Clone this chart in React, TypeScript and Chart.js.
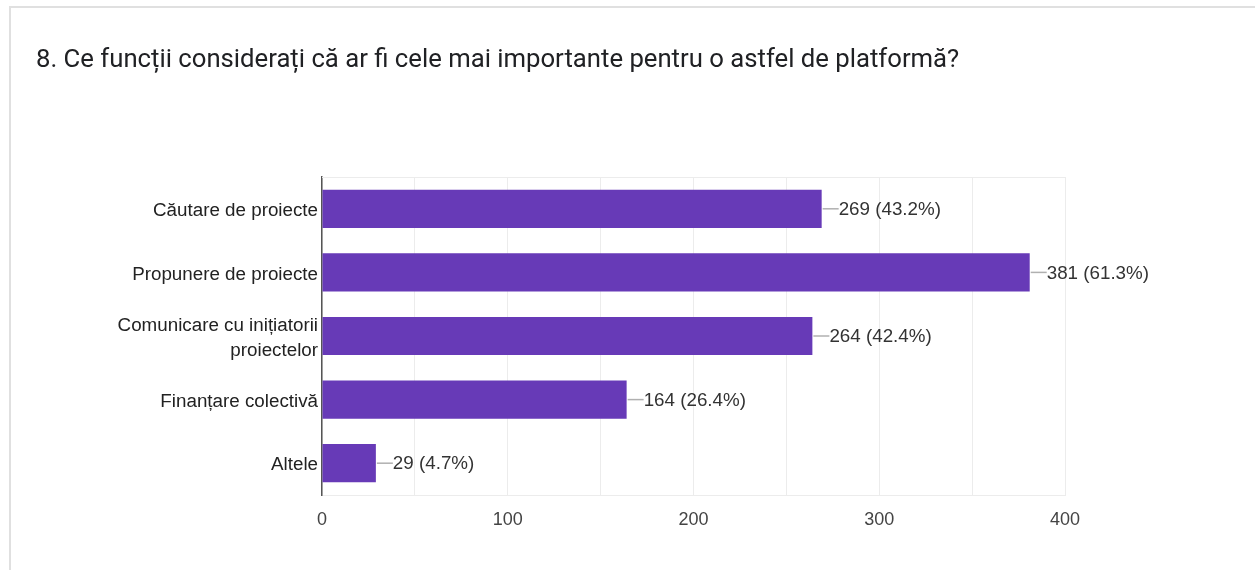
import React, { useEffect, useRef } from 'react';
import { Chart, registerables } from 'chart.js';

Chart.register(...registerables);

const titleText = '8. Ce funcții considerați că ar fi cele mai importante pentru o astfel de platformă?';
const categories: (string | string[])[] = [
  'Căutare de proiecte',
  'Propunere de proiecte',
  ['Comunicare cu inițiatorii', 'proiectelor'],
  'Finanțare colectivă',
  'Altele',
];
const counts = [269, 381, 264, 164, 29];
const percents = ['43.2%', '61.3%', '42.4%', '26.4%', '4.7%'];
const xTickLabels = [0, 100, 200, 300, 400];

const LABEL_FONT = '"Liberation Sans", Arial, sans-serif';

const valueLabels = {
  id: 'valueLabels',
  afterDatasetsDraw(chart: any) {
    const ctx = chart.ctx;
    const meta = chart.getDatasetMeta(0);
    ctx.save();
    meta.data.forEach((bar: any, i: number) => {
      const x = bar.x;
      const y = bar.y;
      ctx.strokeStyle = '#b0b0b0';
      ctx.lineWidth = 1.5;
      ctx.beginPath();
      ctx.moveTo(x + 1, y);
      ctx.lineTo(x + 17, y);
      ctx.stroke();
      ctx.fillStyle = '#333333';
      ctx.font = `18.8px ${LABEL_FONT}`;
      ctx.textAlign = 'left';
      ctx.textBaseline = 'middle';
      ctx.fillText(`${counts[i]} (${percents[i]})`, x + 17, y + 1);
    });
    ctx.restore();
  },
};

const topFrame = {
  id: 'topFrame',
  beforeDatasetsDraw(chart: any) {
    const { ctx, chartArea } = chart;
    ctx.save();
    ctx.strokeStyle = '#ececec';
    ctx.lineWidth = 1;
    ctx.beginPath();
    ctx.moveTo(chartArea.left, chartArea.top + 0.5);
    ctx.lineTo(chartArea.right, chartArea.top + 0.5);
    ctx.stroke();
    ctx.restore();
  },
};

function BarChart() {
  const ref = useRef<HTMLCanvasElement | null>(null);
  useEffect(() => {
    if (!ref.current) return;
    const chart = new Chart(ref.current, {
      type: 'bar',
      data: {
        labels: categories as any,
        datasets: [
          {
            data: counts,
            backgroundColor: '#673ab7',
            borderWidth: 0,
            barPercentage: 0.6,
            categoryPercentage: 1,
          },
        ],
      },
      options: {
        indexAxis: 'y',
        responsive: false,
        animation: false,
        layout: { padding: { top: 177, right: 190, left: 0, bottom: 0 } },
        plugins: {
          legend: { display: false },
          tooltip: { enabled: false },
          title: { display: false },
        },
        scales: {
          x: {
            min: 0,
            max: 400,
            grid: { color: '#ececec', drawTicks: false, lineWidth: 1 },
            border: { color: '#ececec', width: 1 },
            ticks: {
              stepSize: 50,
              autoSkip: false,
              maxRotation: 0,
              padding: 14,
              color: '#444444',
              font: { family: LABEL_FONT, size: 18 },
              callback: (v: any) => (xTickLabels.includes(Number(v)) ? String(v) : ''),
            },
            afterFit: (scale: any) => {
              scale.height = 75;
            },
          },
          y: {
            grid: { display: false, drawTicks: false },
            border: { color: '#555555', width: 1.5 },
            ticks: {
              padding: 4,
              labelOffset: 2,
              color: '#222222',
              font: { family: LABEL_FONT, size: 18.8, lineHeight: 1.33 },
            },
            afterFit: (scale: any) => {
              scale.width = 322;
            },
          },
        },
      },
      plugins: [topFrame, valueLabels],
    });
    return () => chart.destroy();
  }, []);
  return <canvas ref={ref} width={1255} height={570} style={{ position: 'absolute', left: 0, top: 0 }} />;
}

export default function App() {
  return (
    <div style={{ position: 'fixed', left: 0, top: 0, width: 1255, height: 570, background: '#fff', overflow: 'hidden' }}>
      <div
        style={{
          position: 'absolute',
          left: 9,
          top: 6,
          width: 1300,
          height: 600,
          border: '2px solid #e0e0e0',
          boxSizing: 'border-box',
        }}
      />
      <BarChart />
      <div
        style={{
          position: 'absolute',
          left: 36,
          top: 41,
          fontFamily: 'Roboto, sans-serif',
          fontSize: 25.7,
          lineHeight: '34px',
          color: '#202124',
          whiteSpace: 'nowrap',
        }}
      >
        {titleText}
      </div>
    </div>
  );
}
